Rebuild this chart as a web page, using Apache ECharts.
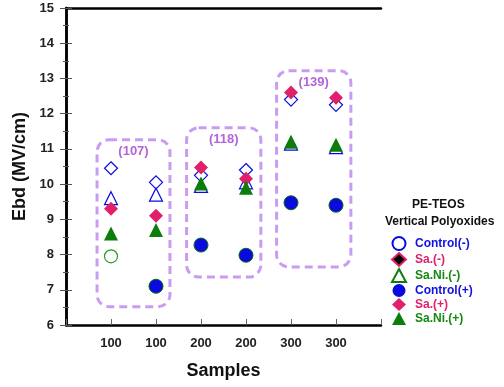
<!DOCTYPE html>
<html>
<head>
<meta charset="utf-8">
<script src="https://cdn.jsdelivr.net/npm/echarts@6/dist/echarts.min.js"></script>
<style>
  html, body { margin: 0; padding: 0; background: #fff; }
  #chart { width: 504px; height: 387px; }
</style>
</head>
<body>
<div id="chart"></div>
<script>
// sample labels along x (one per column)
const categories = ['100', '100', '200', '200', '300', '300']
const xPos = [1, 2, 3, 4, 5, 6]

// marker groups as drawn in the plot
const openDiamondBlue = [10.45, 10.05, 10.25, 10.4, 12.4, 12.25]
const openTriangleBlue = [9.6, 9.7, 9.95, 10.05, 11.15, 11.05]
const redDiamond = [9.3, 9.1, 10.47, 10.15, 12.6, 12.45]
const greenTriangle = [8.6, 8.7, 10.02, 9.9, 11.2, 11.12]
const blueCircle = [null, 7.1, 8.27, 7.98, 9.47, 9.4]
const openCircleGreen = [7.95, null, null, null, null, null]

// dashed groups: [xMin, xMax, yMin, yMax] in data units + label
const groupLabels = ['(107)', '(118)', '(139)']
const groupBoxes = [
  [0.69, 2.31, 6.52, 11.26],
  [2.68, 4.33, 7.36, 11.6],
  [4.68, 6.33, 7.65, 13.22]
]

const legendNames = ['Control(-)', 'Sa.(-)', 'Sa.Ni.(-)', 'Control(+)', 'Sa.(+)', 'Sa.Ni.(+)']
const legendColors = ['#1010e0', '#e0206a', '#128a12', '#1010e0', '#e0206a', '#128a12']

const BLUE = '#0a0ae0'
const RED = '#e0206a'
const GREEN = '#0b7d0b'
const FONT = '"Liberation Sans", Arial, sans-serif'

function pts (arr) {
  return arr.map((v, i) => [xPos[i], v]).filter(p => p[1] !== null)
}

const chart = echarts.init(document.getElementById('chart'))

const plotSeries = [
  {
    type: 'scatter', symbol: 'diamond', symbolSize: 13, data: pts(openDiamondBlue),
    itemStyle: { color: '#fff', borderColor: BLUE, borderWidth: 1.2 }
  },
  {
    type: 'scatter', symbol: 'triangle', symbolSize: 13, data: pts(openTriangleBlue),
    itemStyle: { color: '#fff', borderColor: BLUE, borderWidth: 1.2 }
  },
  {
    type: 'scatter', symbol: 'diamond', symbolSize: 14, data: pts(redDiamond),
    itemStyle: { color: RED }
  },
  {
    type: 'scatter', symbol: 'triangle', symbolSize: 14, data: pts(greenTriangle),
    itemStyle: { color: GREEN }
  },
  {
    type: 'scatter', symbol: 'circle', symbolSize: 14, data: pts(blueCircle),
    itemStyle: { color: BLUE, borderColor: '#0a6a0a', borderWidth: 1 }
  },
  {
    type: 'scatter', symbol: 'circle', symbolSize: 13, data: pts(openCircleGreen),
    itemStyle: { color: '#fff', borderColor: '#2a9a2a', borderWidth: 1.2 }
  }
].map(s => {
  s.itemStyle.opacity = 1
  return Object.assign(s, { silent: true, z: 3 })
})

// legend-only series (legend icons differ from plotted markers)
const legendStyles = [
  { symbol: 'circle', itemStyle: { color: '#fff', borderColor: BLUE, borderWidth: 1.3, opacity: 1 } },
  { symbol: 'diamond', itemStyle: { color: '#000', borderColor: RED, borderWidth: 2, opacity: 1 } },
  { symbol: 'triangle', itemStyle: { color: '#fff', borderColor: GREEN, borderWidth: 1.3, opacity: 1 } },
  { symbol: 'circle', itemStyle: { color: BLUE, opacity: 1 } },
  { symbol: 'diamond', itemStyle: { color: RED, opacity: 1 } },
  { symbol: 'triangle', itemStyle: { color: GREEN, opacity: 1 } }
]
const legendSeries = legendNames.map((name, i) => ({
  name, type: 'scatter', data: [], symbol: legendStyles[i].symbol, itemStyle: legendStyles[i].itemStyle
}))

chart.setOption({
  animation: false,
  backgroundColor: '#fff',
  textStyle: { fontFamily: FONT },
  grid: { left: 66, top: 8, right: 123, bottom: 62 },
  legend: {
    orient: 'vertical',
    left: 386,
    top: 231,
    itemWidth: 14,
    itemHeight: 13,
    itemGap: 1,
    selectedMode: false,
    data: legendNames.map((name, i) => ({
      name,
      icon: legendStyles[i].symbol,
      textStyle: { color: legendColors[i], fontWeight: 'bold', fontSize: 12, fontFamily: FONT, padding: [0, 0, 0, 4] }
    }))
  },
  graphic: [
    {
      type: 'text', left: 412, top: 199,
      style: { text: 'PE-TEOS', font: 'bold 12px ' + FONT, fill: '#111' }
    },
    {
      type: 'text', left: 385, top: 216,
      style: { text: 'Vertical Polyoxides', font: 'bold 12px ' + FONT, fill: '#111' }
    }
  ],
  xAxis: [
    {
      type: 'value', min: 0, max: 7, interval: 1,
      axisLine: { lineStyle: { color: '#000', width: 2.5 } },
      axisTick: { inside: true, length: 6, lineStyle: { color: '#666', width: 1 } },
      axisLabel: {
        margin: 12, color: '#222', fontWeight: 'bold', fontSize: 13,
        formatter: v => (v >= 1 && v <= 6) ? categories[v - 1] : ''
      },
      splitLine: { show: false },
      name: 'Samples', nameLocation: 'middle', nameGap: 37,
      nameTextStyle: { fontSize: 18, fontWeight: 'bold', color: '#111' }
    },
    {
      type: 'value', position: 'top', min: 0, max: 7,
      axisLine: { show: true, lineStyle: { color: '#000', width: 2.5 } },
      axisTick: { show: false }, axisLabel: { show: false }, splitLine: { show: false }
    }
  ],
  yAxis: [
    {
      type: 'value', min: 6, max: 15, interval: 1,
      axisLine: { show: true, lineStyle: { color: '#000', width: 2.5 } },
      axisTick: { inside: true, length: 6, lineStyle: { color: '#555', width: 1 } },
      minorTick: { show: true, splitNumber: 2, length: 3, lineStyle: { color: '#555', width: 1 } },
      axisLabel: { margin: 12, color: '#222', fontWeight: 'bold', fontSize: 13 },
      splitLine: { show: false },
      name: 'Ebd (MV/cm)', nameLocation: 'middle', nameGap: 36,
      nameTextStyle: { fontSize: 18, fontWeight: 'bold', color: '#111' }
    },
    {
      type: 'value', position: 'right', min: 6, max: 15, interval: 1,
      axisLine: { show: true, lineStyle: { color: '#000', width: 2.5 } },
      axisTick: { inside: true, length: 6, lineStyle: { color: '#555', width: 1 } },
      minorTick: { show: true, splitNumber: 2, length: 3, lineStyle: { color: '#555', width: 1 } },
      axisLabel: { show: false },
      splitLine: { show: false }
    }
  ],
  series: plotSeries.concat(legendSeries)
})

// dashed rounded boxes around each sample group
const boxes = []
groupBoxes.forEach((b, i) => {
  const p1 = chart.convertToPixel({ xAxisIndex: 0, yAxisIndex: 0 }, [b[0], b[3]])
  const p2 = chart.convertToPixel({ xAxisIndex: 0, yAxisIndex: 0 }, [b[1], b[2]])
  boxes.push({
    type: 'rect', z: 1, silent: true,
    shape: { x: p1[0], y: p1[1], width: p2[0] - p1[0], height: p2[1] - p1[1], r: 12 },
    style: { fill: null, stroke: '#c99cf3', lineWidth: 3, lineDash: [8, 5] }
  })
  boxes.push({
    type: 'text', z: 2, silent: true,
    x: (p1[0] + p2[0]) / 2, y: p1[1] + 5,
    style: { text: groupLabels[i], font: 'bold 13px ' + FONT, fill: '#b464d8', align: 'center', verticalAlign: 'top' }
  })
})
const opt = chart.getOption()
chart.setOption({ graphic: opt.graphic[0].elements.concat(boxes) })
</script>
</body>
</html>
